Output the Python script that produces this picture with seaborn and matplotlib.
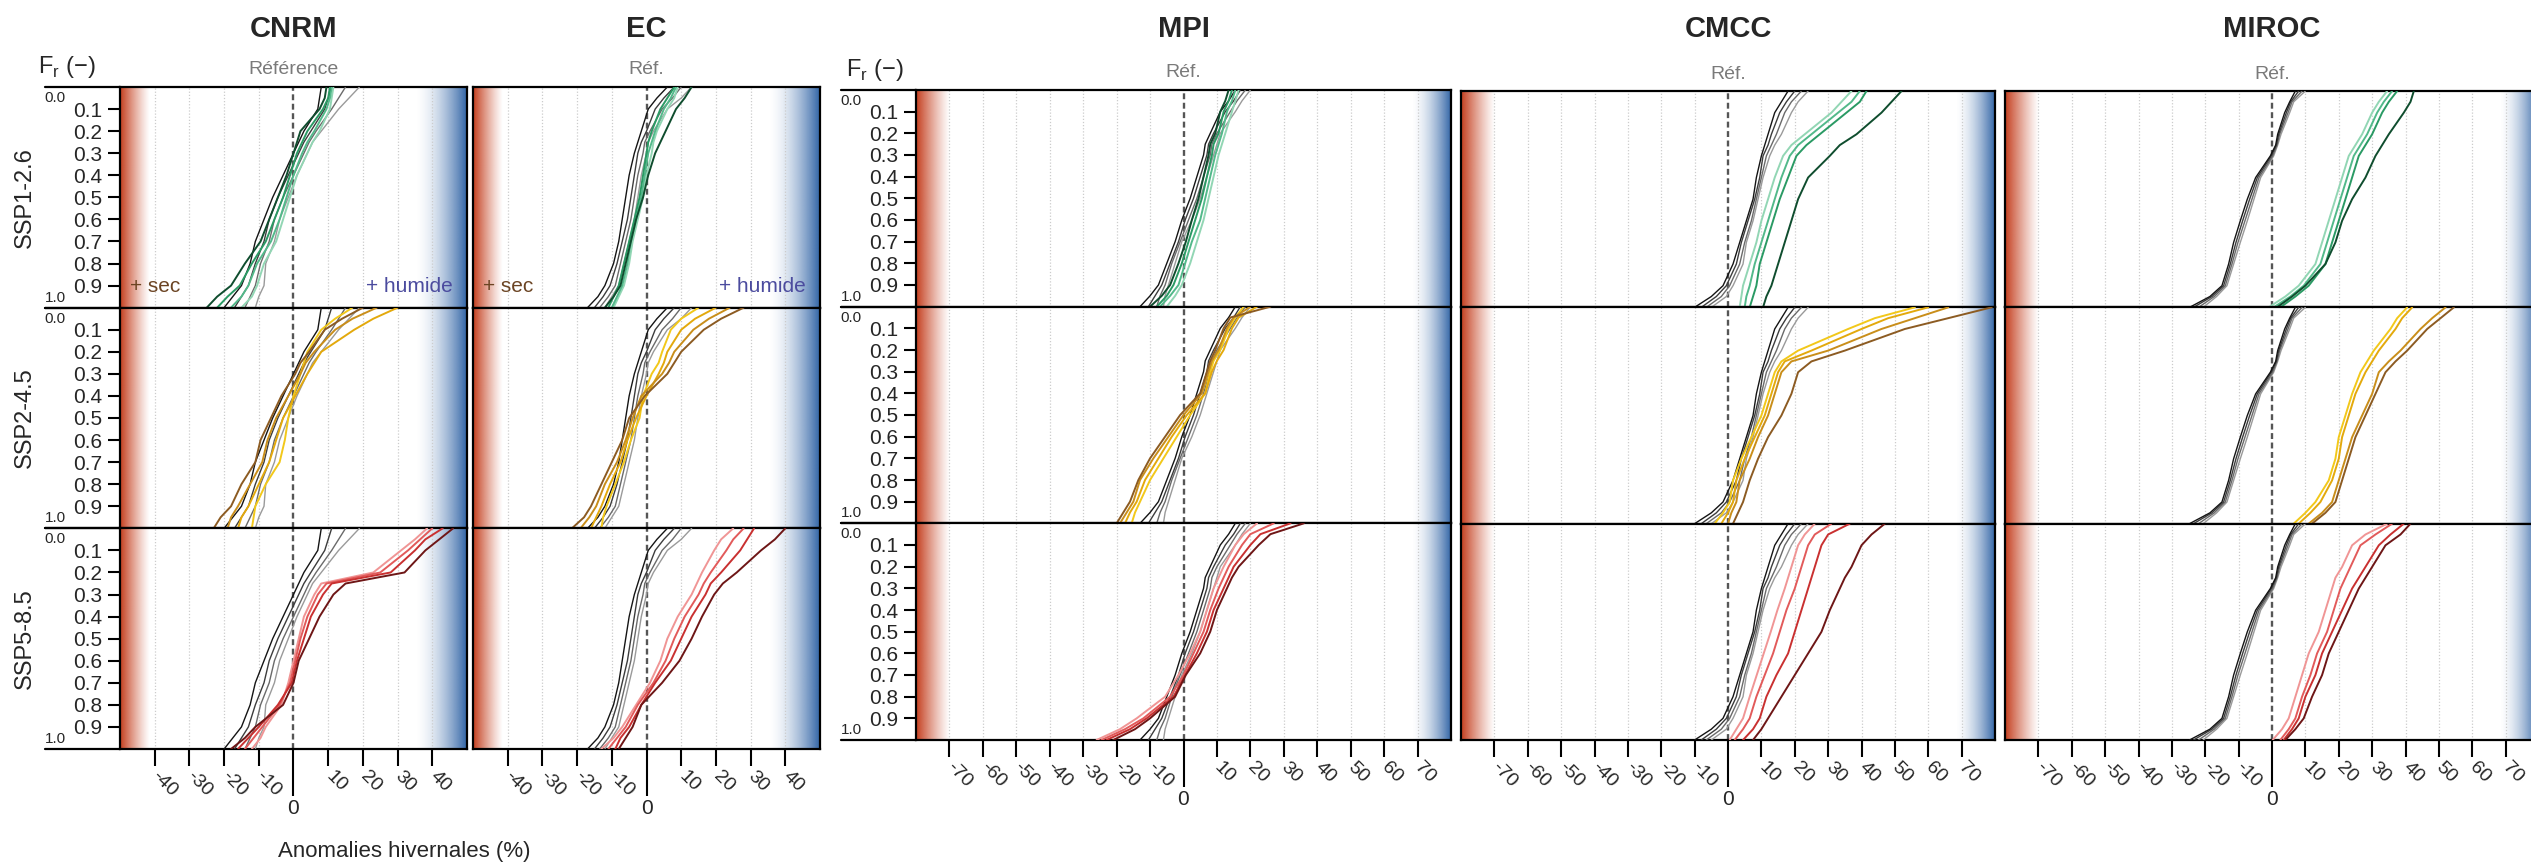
import numpy as np
import pandas as pd
import matplotlib
matplotlib.use("Agg")
import matplotlib.pyplot as plt
import seaborn as sns
from matplotlib.colors import to_rgb

# rank frequency Fr (0 = wettest winter at top, 1 = driest at bottom)
FR = [0.0, 0.05, 0.1, 0.2, 0.25, 0.3, 0.4, 0.5, 0.6, 0.7, 0.8, 0.9, 0.95, 1.0]

MODELS = ["CNRM", "EC", "MPI", "CMCC", "MIROC"]
SCENARIOS = ["SSP1-2.6", "SSP2-4.5", "SSP5-8.5"]
SUBTITLES = ["Référence", "Réf.", "Réf.", "Réf.", "Réf."]

# winter anomalies (%) read at each Fr, 4 members per bundle
CNRM_REF = [
    [19, 16, 13, 8, 5.5, 4, 1, -1.5, -4, -5.5, -8, -8.5, -10, -11],
    [15, 13, 11, 6.5, 4.5, 3, 0, -3, -5.5, -7, -9.5, -11, -12.5, -14],
    [11, 10, 9, 5, 3, 1.5, -1.5, -4.5, -7, -8.5, -11, -13, -15, -17],
    [8, 7.5, 7, 3, 1.5, 0, -3, -6, -8.5, -11, -12.5, -15, -17.5, -20],
]
CNRM_SSP126 = [
    [11.5, 11, 10.5, 7.5, 5.5, 4, 1, -1, -3, -5, -8.5, -10.5, -12, -15],
    [11, 10.5, 9.5, 6, 4, 2.5, 0, -2, -4, -6.5, -10.5, -13, -15, -18],
    [10.5, 10, 8.5, 4, 2.5, 1, -1, -3, -5.5, -8, -12, -15.5, -19, -22],
    [9.5, 9, 7.5, 2, 1, 0, -2, -4.5, -7, -9.5, -14, -18, -22, -25],
]
CNRM_SSP245 = [
    [17, 12, 8, 4, 3, 2, 0, -1.5, -2.5, -4, -8, -11, -11.5, -12],
    [30, 23, 17.5, 8, 6, 4, 0.5, -3, -5, -7, -10, -13, -15, -16],
    [24, 17, 12, 6, 3.5, 2, -1.5, -5, -7.5, -9, -12.5, -16, -18, -19],
    [20, 14, 9, 4.5, 2, 0.5, -3.5, -6.5, -9.5, -11, -15, -18, -21, -23],
]
CNRM_SSP585 = [
    [38.5, 35, 31, 23, 8, 6, 3, 1.5, 0, -1.5, -3.5, -8, -9.5, -12],
    [40, 36.5, 33, 25, 9.5, 7, 4, 2, 0.5, -1, -4, -9, -11.5, -14],
    [43, 38, 35, 28, 11, 8.5, 5, 3, 1, -0.5, -4.5, -10, -13, -16],
    [46, 42, 38, 32, 15, 11.5, 7.5, 4.5, 1.5, 0, -3, -11, -14, -18],
]

EC_REF = [
    [13, 10, 6, 2, 0.5, 0, -1.5, -2.5, -3.5, -5, -6.5, -8, -10, -12],
    [10, 7.5, 4.5, 1, -0.5, -1, -2.5, -3.5, -4.5, -6, -7.5, -9, -11, -13.5],
    [8, 5, 2.5, 0, -1.5, -2.5, -3.5, -4.5, -5.5, -7, -8.5, -10.5, -12.5, -15],
    [6, 3, 0.5, -1.5, -2.5, -3.5, -5, -6, -7, -8, -9.5, -12, -14, -17],
]
EC_SSP126 = [
    [9, 8, 6, 3, 2, 1.5, 0, -1, -2.5, -4, -5, -6.5, -8, -9.5],
    [8.5, 7, 5, 2.5, 1.5, 0.5, -0.5, -1.5, -3, -4.5, -5.5, -7, -8.5, -10],
    [8, 6, 4, 1.5, 0.5, 0, -1, -2, -3.5, -5, -6.5, -8, -9.5, -11],
    [13, 11, 8.5, 5.5, 4, 2.5, 0.5, -1, -3, -4.5, -6, -7.5, -9.5, -12],
]
EC_SSP245 = [
    [15, 10, 7, 4.5, 3.5, 1.5, -1, -2, -4.5, -6.5, -9, -11.5, -12.5, -13],
    [20, 14, 10, 6, 5, 3.5, 0, -3, -5.5, -7.5, -10.5, -13, -14.5, -16],
    [24, 18, 13.5, 8, 6.5, 4.5, -1.5, -4, -6, -8.5, -12, -14.5, -16.5, -19],
    [28, 21.5, 16.5, 10, 8, 6, -0.5, -5, -7, -10, -13, -16, -18, -21.5],
]
EC_SSP585 = [
    [25, 21.5, 19.5, 16, 14.5, 13, 9, 6, 4, 1, -3, -7, -9.5, -13],
    [28, 25, 23, 18.5, 16.5, 15, 11, 8, 5.5, 2, -2.5, -6, -8.5, -11],
    [31, 29, 27, 21.5, 18.5, 17, 13, 10, 7, 2.5, -1.5, -5, -7.5, -9],
    [40, 37, 33, 26, 22, 19.5, 16, 13, 9.5, 4.5, -1.5, -4, -6, -8],
]

MPI_REF = [
    [20, 17.5, 15.5, 11, 10, 9, 7, 5, 2.5, -0.5, -2.5, -4.5, -5.5, -6],
    [18.5, 16, 14, 10, 8.5, 8, 6, 4, 1.5, -1, -3.5, -5.5, -7, -8],
    [17, 15, 12.5, 9, 7.5, 7, 5, 3, 0.5, -1.5, -4, -6.5, -8.5, -10.5],
    [15.5, 13.5, 11, 8, 6.5, 6, 4, 2, -0.5, -2.5, -5, -7.5, -10, -13],
]
MPI_SSP126 = [
    [16.5, 15.5, 14.5, 12.5, 11.5, 10.5, 9, 7.5, 6, 4, 2, -0.5, -2.5, -5],
    [15.5, 14.5, 13, 11.5, 10.5, 9.5, 8, 6.5, 5, 2.5, 0.5, -1.5, -4, -7],
    [14.5, 13.5, 12, 10.5, 9, 8.5, 7, 5.5, 3.5, 1.5, -0.5, -3, -5, -8],
    [13.5, 12.5, 11, 9.5, 8, 7.5, 6, 4.5, 2.5, 0.7, -1.5, -4, -6.5, -10],
]
MPI_SSP245 = [
    [18, 15.5, 13.5, 11, 9, 8, 6.5, 2, -2, -6, -10, -13, -14.5, -15.5],
    [22, 16.5, 14.5, 12, 10, 8.5, 6.5, 1, -3.5, -7.5, -11.5, -14, -16, -17.5],
    [20, 15, 13, 10.5, 8.5, 7.5, 5.5, 0, -4.5, -9, -13, -15, -17, -19],
    [26, 14, 12, 9.5, 8, 7, 5, -1, -5.5, -10, -13.5, -16, -18, -20],
]
MPI_SSP585 = [
    [22, 18, 15.5, 12, 10.5, 9, 7, 5, 2, -1.5, -5.5, -14, -19, -26],
    [27, 20, 17.5, 13.5, 12, 10.5, 8, 6, 3, 0, -4, -12, -17.5, -24.5],
    [32, 23, 20, 15, 13.5, 12, 9, 7, 4, 0.5, -3, -11, -16, -23],
    [36, 26, 22.5, 16.5, 14.5, 13, 10, 8, 5, 0.7, -2.5, -10, -14.5, -21],
]

CMCC_REF = [
    [24, 21, 19, 16, 14, 12.5, 10.5, 9, 7.5, 5.5, 4.5, 1.5, -0.5, -5],
    [22, 19, 17, 14.5, 13, 11.5, 10, 8.5, 7, 5, 3.5, 0.5, -2, -6.5],
    [20, 17.5, 15.5, 13, 12, 10.5, 9.5, 8, 6, 4, 2.5, -0.5, -3.5, -8],
    [18, 16, 14, 12, 11, 10, 8.5, 7.5, 5.5, 3.5, 1.5, -1.5, -5, -10],
]
CMCC_SSP126 = [
    [37, 34, 31, 23, 19, 16.5, 14, 12, 10, 8.5, 6.5, 4.5, 4, 3.5],
    [39.5, 37, 33, 25, 21, 18.5, 16, 14, 12, 10, 8, 6.5, 5.5, 5],
    [41.5, 39.5, 35.5, 27.5, 23.5, 20.5, 18, 15.5, 13.5, 11.5, 9.5, 8.5, 7.5, 6.5],
    [52, 49, 46, 38.5, 33.5, 30.5, 24, 21, 19, 17, 15, 13, 11.5, 10.5],
]
CMCC_SSP245 = [
    [56, 44, 36, 21, 16, 14, 12, 10, 7, 4, 1.5, 0.5, -1.5, -4],
    [60, 48, 40, 25, 17, 15, 13, 11, 8, 5, 2.5, 1.5, 0, -2],
    [66, 56, 46, 30, 19, 16, 14, 12, 9, 6.5, 3.5, 2.5, 1, 0],
    [79, 66, 53, 35, 25, 21, 19, 16, 12, 9, 6.5, 4.5, 3, 1.5],
]
CMCC_SSP585 = [
    [26, 23, 21, 19, 18, 17, 14.8, 12.8, 10.7, 8.6, 6.5, 4.5, 2.5, 0.5],
    [31, 26, 24, 22, 21, 20, 17.5, 15.5, 13.5, 11, 8.5, 6.5, 4.5, 2],
    [36.5, 30, 28, 26, 25, 24, 22, 20, 18, 14.5, 11.5, 9.5, 7.5, 4.5],
    [47, 43, 40, 37, 35, 33.5, 30.5, 28, 24, 20, 16, 12, 10, 7.5],
]

MIROC_REF = [
    [10, 6.5, 5.3, 2.7, 1.7, 0.5, -3.4, -5.4, -7.4, -9.5, -11.5, -13.5, -16.6, -20.6],
    [9, 6, 4.8, 2.3, 1.5, 0.2, -3.9, -6, -8.1, -10.2, -12, -14, -17.3, -22],
    [8, 5.6, 4.3, 2, 1.3, -0.2, -4.4, -6.7, -8.8, -10.8, -12.5, -14.5, -18, -23.5],
    [7, 5.3, 3.8, 1.7, 1.1, -0.5, -4.9, -7.4, -9.5, -11.5, -13, -15, -18.6, -24.7],
]
MIROC_SSP126 = [
    [34.5, 32, 30, 27, 25, 23, 21, 19, 17, 15, 13, 8, 4, -1],
    [36, 33.5, 31.5, 28.5, 26.5, 24.5, 22.5, 20.5, 18.5, 16.5, 14.5, 9.5, 5.5, 0.5],
    [37.5, 35, 33, 30, 28, 26, 24, 22, 20, 18, 16, 11, 7, 2.5],
    [42.5, 41.5, 39.5, 35, 33, 31, 28, 24, 21, 19, 16, 10, 6, 1.5],
]
MIROC_SSP245 = [
    [40.5, 37.5, 35.5, 30.5, 28.5, 26.5, 24, 22, 20, 19, 17, 13, 10, 6.5],
    [42, 39, 37, 32, 30, 28, 25, 23, 21, 20, 18, 14.5, 11.5, 8],
    [52, 48, 44.5, 38.5, 35, 32, 30, 27, 24, 22, 20, 18, 15, 11],
    [54.5, 50.5, 46.5, 40.5, 37, 34, 31, 28, 25, 23, 21, 19, 16, 12],
]
MIROC_SSP585 = [
    [34.5, 28, 24, 21, 19, 18, 16, 14, 11, 9, 7, 5, 3, 0.2],
    [36, 31, 26.5, 23.5, 22, 20.5, 18.5, 16.5, 13.5, 11.5, 9, 7, 5, 2.5],
    [39.5, 35.5, 32, 28, 26, 24, 21, 18, 15, 13, 10, 8, 6, 3.5],
    [41.5, 38.5, 34, 30, 28, 26, 23, 20, 17, 15, 12, 9.5, 7, 4],
]

REF = {"CNRM": CNRM_REF, "EC": EC_REF, "MPI": MPI_REF, "CMCC": CMCC_REF, "MIROC": MIROC_REF}
PROJ = {
    "CNRM": [CNRM_SSP126, CNRM_SSP245, CNRM_SSP585],
    "EC": [EC_SSP126, EC_SSP245, EC_SSP585],
    "MPI": [MPI_SSP126, MPI_SSP245, MPI_SSP585],
    "CMCC": [CMCC_SSP126, CMCC_SSP245, CMCC_SSP585],
    "MIROC": [MIROC_SSP126, MIROC_SSP245, MIROC_SSP585],
}

REF_COLORS = ["#9a9a9a", "#6a6a6a", "#3c3c3c", "#141414"]
SCEN_COLORS = [
    ["#92d6b4", "#52b98a", "#2a9a64", "#0f4d2e"],
    ["#f2c81a", "#e3a90c", "#c98e1a", "#8c5b22"],
    ["#f09595", "#e25a5a", "#c93030", "#6e1616"],
]

# layout in pixels: left, width, top, bottom
W, H = 2531, 865
BOX = {
    "CNRM": (120, 347, 87, 749),
    "EC": (473, 347, 87, 749),
    "MPI": (916, 535, 90, 740),
    "CMCC": (1461, 534, 91, 740),
    "MIROC": (2005, 534, 91, 740),
}
HALF = {"CNRM": 50, "EC": 50, "MPI": 80, "CMCC": 80, "MIROC": 80}
LABEL_COLS = {"CNRM": 67, "MPI": 875}  # x centre (px) of the Fr label

sns.set_theme(style="ticks")
plt.rcParams["font.family"] = ["Liberation Sans", "DejaVu Sans"]


def edge_fade(ax, x_edge, x_inner, color, power):
    t = np.linspace(1, 0, 200)
    img = np.zeros((1, 200, 4))
    img[..., :3] = to_rgb(color)
    img[..., 3] = t ** power
    ax.imshow(img, extent=[x_edge, x_inner, 1, 0], aspect="auto",
              interpolation="bilinear", zorder=0)


def draw_bundle(ax, curves, colors, lw):
    recs = []
    for k, vals in enumerate(curves):
        for f, v in zip(FR, vals):
            recs.append({"member": f"m{k}", "Fr": f, "anom": v})
    d = pd.DataFrame(recs)
    pal = {f"m{k}": c for k, c in enumerate(colors)}
    sns.lineplot(data=d, x="anom", y="Fr", hue="member", palette=pal,
                 orient="y", estimator=None, sort=False, lw=lw,
                 legend=False, ax=ax, zorder=3)


fig = plt.figure(figsize=(W / 100, H / 100), dpi=100)

for ci, model in enumerate(MODELS):
    left, width, top, bottom = BOX[model]
    rh = (bottom - top) / 3
    L = HALF[model]
    for ri, scen in enumerate(SCENARIOS):
        t = top + ri * rh
        ax = fig.add_axes([left / W, 1 - (t + rh) / H, width / W, rh / H])

        red_w, blue_w = (8.5, 15) if L == 50 else (10, 12)
        edge_fade(ax, -L, -L + red_w, "#c43d1c", 1.2)
        edge_fade(ax, L, L - blue_w, "#2a5fa3", 1.7)

        grid = [v for v in range(-(L - 10), L, 10) if v != 0]
        for v in grid:
            ax.axvline(v, color="#cccccc", lw=0.9, ls=(0, (1, 1.5)), zorder=1)
        ax.axvline(0, color="#555555", lw=1.7, ls=(0, (2.5, 1.5)), zorder=2)

        draw_bundle(ax, REF[model], REF_COLORS, 1.0)
        draw_bundle(ax, PROJ[model][ri], SCEN_COLORS[ri], 1.4)

        ax.set_xlim(-L, L)
        ax.set_ylim(1, 0)
        ax.set_xlabel("")
        ax.set_ylabel("")
        for sp in ax.spines.values():
            sp.set_visible(True)
            sp.set_color("black")
            sp.set_linewidth(1.6)

        if model in LABEL_COLS:
            ax.set_yticks([0.1, 0.2, 0.3, 0.4, 0.5, 0.6, 0.7, 0.8, 0.9])
            ax.set_yticklabels([f"{v:.1f}" for v in np.arange(1, 10) / 10], fontsize=15)
            ax.tick_params(axis="y", length=9, width=1.5, pad=4, color="black")
            ext = 75 / width
            for yy in (0, 1):
                ax.plot([-ext, 0], [yy, yy], transform=ax.transAxes, color="black",
                        lw=1.6, clip_on=False)
            xs = -65 / width
            ax.text(xs, 1 - 11 / rh, "0.0", transform=ax.transAxes, ha="center",
                    va="center", fontsize=11)
            ax.text(xs, 10 / rh, "1.0", transform=ax.transAxes, ha="center",
                    va="center", fontsize=11)
        else:
            ax.set_yticks([])

        if ri == 2:
            ticks = [v for v in range(-(L - 10), L, 10) if v != 0]
            ax.set_xticks(ticks)
            ax.set_xticklabels([str(v) for v in ticks], fontsize=14)
            for lbl in ax.get_xticklabels():
                lbl.set_rotation(-45)
                lbl.set_ha("left")
                lbl.set_va("center")
                lbl.set_rotation_mode("anchor")
            ax.tick_params(axis="x", which="major", length=12, width=1.5, pad=6,
                           color="black")
            ax.set_xticks([0], minor=True)
            ax.set_xticklabels(["0"], minor=True, fontsize=15)
            ax.tick_params(axis="x", which="minor", length=34, width=1.5, pad=2,
                           color="black")
        else:
            ax.set_xticks([])

        if ri == 0:
            ax.text(0.5, 1 + 17 / rh, SUBTITLES[ci], transform=ax.transAxes,
                    ha="center", va="center", fontsize=14, color="#7a7a7a")
            if model in LABEL_COLS:
                ax.text((LABEL_COLS[model] - left) / width, 1 + 20 / rh,
                        "F$_\\mathregular{r}$ (−)", transform=ax.transAxes,
                        ha="center", va="center", fontsize=17)
            if model in ("CNRM", "EC"):
                ax.text(0.03, 0.095, "+ sec", transform=ax.transAxes, ha="left",
                        va="center", fontsize=15, color="#6b4423")
                ax.text(0.958, 0.095, "+ humide", transform=ax.transAxes, ha="right",
                        va="center", fontsize=15, color="#4b4b9e")

        if ci == 0:
            fig.text(25 / W, 1 - (t + rh / 2) / H, scen, rotation=90, ha="center",
                     va="center", fontsize=17)

    fig.text((left + width / 2) / W, 1 - 29 / H, model, ha="center", va="center",
             fontsize=21, fontweight="bold")

fig.text(404 / W, 1 - 852 / H, "Anomalies hivernales (%)", ha="center", va="center",
         fontsize=16)

fig.savefig("out.png", dpi=100)
